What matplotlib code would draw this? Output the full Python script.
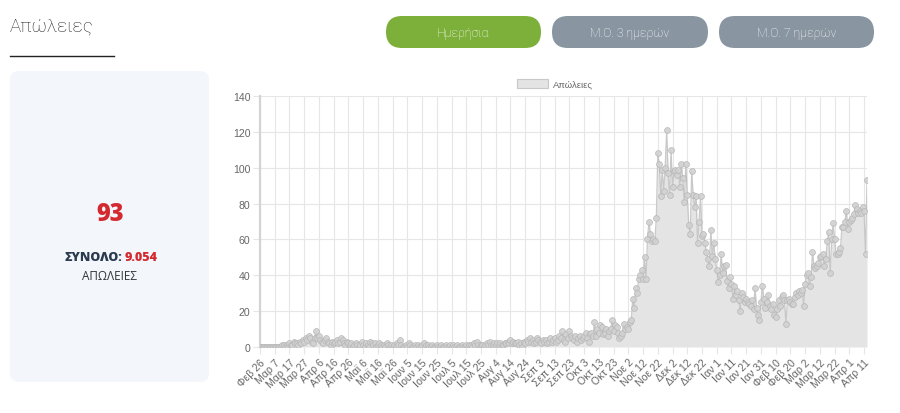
import numpy as np
import matplotlib
matplotlib.use("Agg")
import matplotlib.pyplot as plt
from matplotlib.patches import FancyBboxPatch, Rectangle

# ----------------------------
# Data: daily deaths, 26 Feb 2020 -> 13 Apr 2021 (one value per day)
# ----------------------------
deaths_feb_mar = [0, 0, 0, 0, 0, 0, 0, 0, 0, 0, 0, 0, 0, 0, 0, 1,
                  1, 0, 1, 0, 2, 1, 1, 3, 2, 2, 1, 3, 2, 4]
deaths_mar_apr = [3, 5, 4, 6, 5, 3, 2, 5, 9, 5, 6, 4, 3, 2, 4,
                  5, 3, 2, 1, 3, 2, 3, 4, 2, 3, 5, 4, 2, 1, 3]
deaths_apr_jul = [2, 1, 2, 0, 1, 2, 1, 0, 1, 3,
                  1, 0, 2, 1, 0, 3, 2, 1, 2, 0,
                  1, 2, 1, 0, 1, 0, 2, 1, 0, 1,
                  0, 1, 0, 2, 1, 4, 1, 0, 0, 1,
                  0, 2, 1, 0, 0, 1, 0, 1, 0, 0,
                  1, 2, 0, 1, 1, 0, 0, 1, 0, 0,
                  1, 0, 0, 1, 0, 0, 1, 0, 0, 1]
deaths_jul_nov = [0, 1, 0, 0, 1, 0, 0, 1, 0, 0,
                  1, 0, 1, 1, 0, 2, 1, 3, 1, 0,
                  1, 1, 0, 1, 2, 1, 3, 1, 1, 2,
                  1, 2, 1, 2, 1, 1, 2, 2, 3, 2,
                  4, 2, 3, 2, 2, 3, 1, 2, 0, 3,
                  2, 4, 3, 5, 3, 4, 2, 3, 5, 4,
                  3, 2, 4, 3, 4, 2, 3, 5, 3, 4,
                  5, 3, 4, 6, 5, 9, 4, 3, 7, 5,
                  9, 6, 5, 4, 6, 3, 5, 6, 4, 5,
                  6, 8, 5, 3, 7, 8, 6, 14, 6, 10,
                  8, 12, 11, 7, 8, 10, 6, 9, 10, 15,
                  9, 12, 11, 8, 5, 6, 8, 13, 10, 11]
deaths_nov_dec = [10, 14, 15, 27, 22, 33, 30, 38, 40, 43,
                  38, 50, 38, 60, 70, 63, 59, 60, 59, 72,
                  108, 102, 84, 99, 87, 100, 121, 97, 85, 110,
                  89, 98, 99, 96, 99, 89, 102, 94, 81, 102,
                  85, 68, 63, 98, 85, 78, 84, 58, 70, 84,
                  62]
deaths_dec_feb = [63, 58, 53, 49, 45, 65, 51, 58, 49, 43,
                  36, 40, 52, 41, 45, 46, 37, 33, 39, 35,
                  27, 34, 29, 31, 26, 20, 30, 28, 25, 27,
                  25, 24, 23, 26, 21, 33, 22, 18, 15, 25,
                  34, 27, 22, 25, 29, 23, 21, 24, 18, 17,
                  21, 26, 23, 28, 29, 26, 13, 26, 27, 25,
                  24, 24]
deaths_feb_apr = [28, 30, 29, 31, 30, 32, 23, 35, 40, 41,
                  34, 39, 53, 45, 44, 45, 47, 50, 51, 52,
                  45, 49, 59, 64, 41, 60, 69, 60, 52, 52,
                  53, 55, 67, 67, 70, 76, 66, 70, 71, 72,
                  74, 79, 77, 75, 76, 75, 78, 76, 52, 93]

tick_labels = ["Φεβ 26", "Μαρ 7", "Μαρ 17", "Μαρ 27", "Απρ 6", "Απρ 16", "Απρ 26",
               "Μαϊ 6", "Μαϊ 16", "Μαϊ 26", "Ιουν 5", "Ιουν 15", "Ιουν 25",
               "Ιουλ 5", "Ιουλ 15", "Ιουλ 25", "Αυγ 4", "Αυγ 14", "Αυγ 24",
               "Σεπ 3", "Σεπ 13", "Σεπ 23", "Οκτ 3", "Οκτ 13", "Οκτ 23",
               "Νοε 2", "Νοε 12", "Νοε 22", "Δεκ 2", "Δεκ 12", "Δεκ 22",
               "Ιαν 1", "Ιαν 11", "Ιαν 21", "Ιαν 31", "Φεβ 10", "Φεβ 20",
               "Μαρ 2", "Μαρ 12", "Μαρ 22", "Απρ 1", "Απρ 11"]
tick_step = 10

today_value = "93"
total_value = "9.054"

deaths = np.array(deaths_feb_mar + deaths_mar_apr + deaths_apr_jul + deaths_jul_nov
                  + deaths_nov_dec + deaths_dec_feb + deaths_feb_apr)
days = np.arange(len(deaths))

# ----------------------------
# Page layout (pixel coordinates, origin top-left)
# ----------------------------
W, H = 900, 414
fig = plt.figure(figsize=(W / 100, H / 100), dpi=100)
page = fig.add_axes([0, 0, 1, 1])
page.set_xlim(0, W)
page.set_ylim(H, 0)
page.axis("off")

page.text(10, 27, "Απώλειες", fontsize=13.5, family=["Roboto", "DejaVu Sans"],
          weight="light", color="#222222", va="center", ha="left")
page.plot([10, 114], [56.5, 56.5], color="#222222", lw=1)

buttons = [("Ημερήσια", 386, 541, "#7cb03a"),
           ("Μ.Ο. 3 ημερών", 552, 708, "#8995a1"),
           ("Μ.Ο. 7 ημερών", 719, 874, "#8995a1")]
for label, x0, x1, col in buttons:
    page.add_patch(FancyBboxPatch((x0, 17), x1 - x0, 32,
                                  boxstyle="round,pad=0,rounding_size=16",
                                  fc=col, ec="none"))
    page.text((x0 + x1) / 2, 33.5, label, fontsize=8.8, color="white", weight="light",
              family=["Roboto", "DejaVu Sans"], ha="center", va="center")

# Left summary card
page.add_patch(FancyBboxPatch((10, 72), 199, 311, boxstyle="round,pad=0,rounding_size=9",
                              fc="#f3f7fc", ec="none"))
page.text(110, 215, today_value, fontsize=17, weight=800, color="#d42a2f",
          family=["Open Sans", "DejaVu Sans"], ha="center", va="center")
page.text(122, 258, "ΣΥΝΟΛΟ:", fontsize=9, weight=800, color="#2b3a4f",
          family=["Open Sans", "DejaVu Sans"], ha="right", va="center")
page.text(124.5, 258, total_value, fontsize=9, weight=800, color="#d42a2f",
          family=["Open Sans", "DejaVu Sans"], ha="left", va="center")
page.text(110, 277, "ΑΠΩΛΕΙΕΣ", fontsize=8.5, color="#333333",
          family=["Open Sans", "DejaVu Sans"], ha="center", va="center")

# Legend
page.add_patch(Rectangle((517, 80), 31, 9, fc="#e4e4e4", ec="#c8c8c8", lw=0.8))
page.text(553, 84.5, "Απώλειες", fontsize=6.8, color="#666666",
          family=["Liberation Sans", "DejaVu Sans"], ha="left", va="center")

# ----------------------------
# Chart
# ----------------------------
left, right, top, bottom = 260, 867, 97, 348
ax = fig.add_axes([left / W, (H - bottom) / H, (right - left) / W, (bottom - top) / H])
ax.set_facecolor("none")

ax.fill_between(days, deaths, 0, color="#e4e4e4", lw=0, zorder=2)
ax.plot(days, deaths, color="#c4c4c4", lw=0.9, zorder=3,
        marker="o", ms=4.2, mfc="#d2d2d2", mec="#b8b8b8", mew=0.6, alpha=0.9)

ax.set_xlim(0, len(deaths) - 1)
ax.set_ylim(0, 140)
ax.set_yticks(range(0, 141, 20))
tick_pos = np.arange(len(tick_labels)) * tick_step
ax.set_xticks(tick_pos)
ax.set_xticklabels(tick_labels, rotation=45, ha="right", rotation_mode="anchor",
                   fontsize=7.6, color="#666666", family=["Liberation Sans", "DejaVu Sans"])
for t in ax.get_yticklabels():
    t.set_fontsize(7.6)
    t.set_color("#666666")
    t.set_family(["Liberation Sans", "DejaVu Sans"])

ax.grid(True, color="#e6e6e6", lw=0.8, zorder=0)
ax.set_axisbelow(True)
ax.tick_params(axis="both", length=5, width=0.8, color="#e6e6e6", pad=2)
for side in ["top", "right", "bottom"]:
    ax.spines[side].set_visible(False)
ax.spines["left"].set_color("#d4d4d4")
ax.spines["left"].set_linewidth(1.6)

fig.savefig("out.png", dpi=100)
